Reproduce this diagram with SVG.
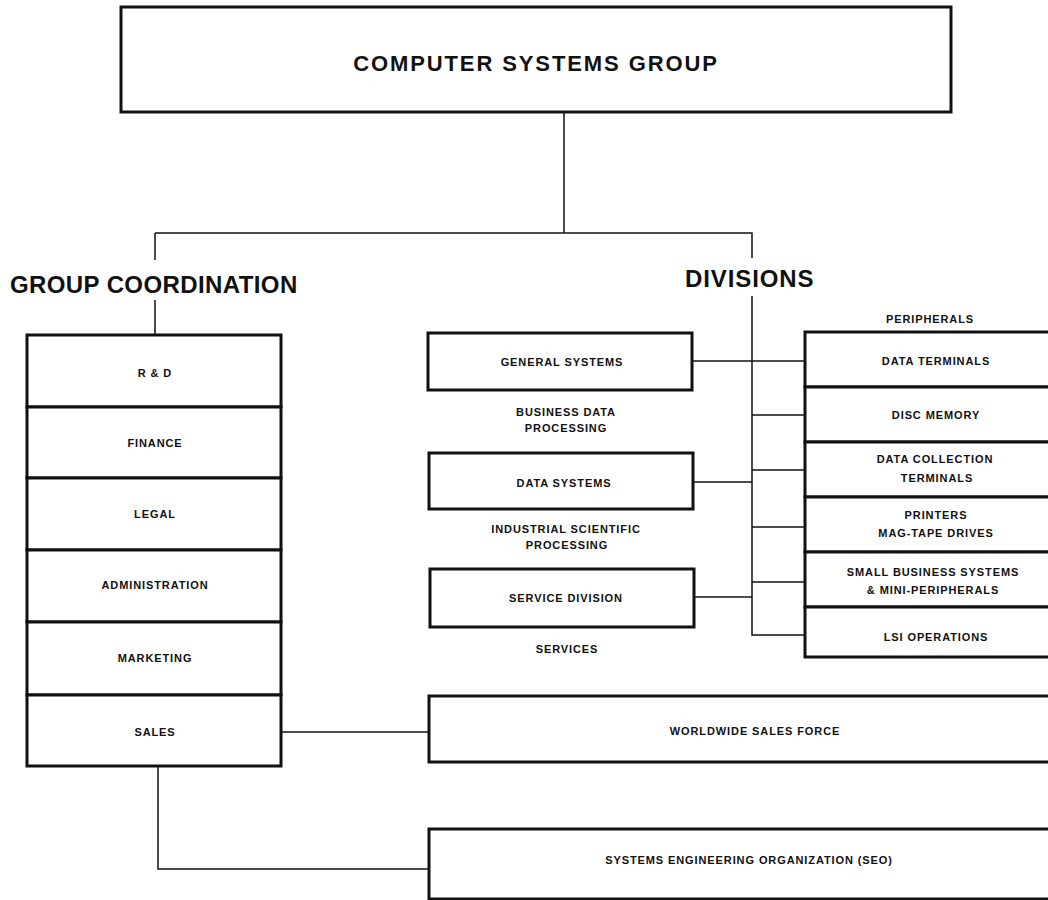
<svg xmlns="http://www.w3.org/2000/svg" width="1048" height="900" viewBox="0 0 1048 900">
<style>
.box{fill:#fff;stroke:#111;stroke-width:3}
.conn{fill:none;stroke:#111;stroke-width:1.5}
.t{font-family:"Liberation Sans",Arial,sans-serif;font-weight:bold;font-size:11px;letter-spacing:0.9px;fill:#111;text-anchor:middle}
.h{font-family:"Liberation Sans",Arial,sans-serif;font-weight:bold;fill:#111}
</style>
<rect width="1048" height="900" fill="#fff"/>
<g id="connectors">
<path class="conn" d="M564,112 V233"/>
<path class="conn" d="M155,233 H752 V258"/>
<path class="conn" d="M155,233 V260"/>
<path class="conn" d="M155,300 V335"/>
<path class="conn" d="M752,296 V635 H805"/>
<path class="conn" d="M692,361 H805"/>
<path class="conn" d="M752,415 H805 M752,470 H805 M752,527 H805 M752,582 H805"/>
<path class="conn" d="M693,482 H752"/>
<path class="conn" d="M694,597 H752"/>
<path class="conn" d="M281,732 H429"/>
<path class="conn" d="M158,766 V869 H429"/>
</g>
<g id="computer-systems-group">
<rect class="box" x="121" y="7" width="830" height="105" stroke-width="3.5"/>
<text class="h" x="536" y="71" font-size="22" letter-spacing="1.9" text-anchor="middle">COMPUTER SYSTEMS GROUP</text>
</g>
<g id="group-coordination-label">
<text class="h" x="10" y="293" font-size="24" letter-spacing="0.4">GROUP COORDINATION</text>
</g>
<g id="divisions-label">
<text class="h" x="685" y="287" font-size="24" letter-spacing="0.9">DIVISIONS</text>
</g>
<g id="rd"><rect class="box" x="27" y="335" width="254" height="72"/><text class="t" x="155" y="377">R &amp; D</text></g>
<g id="finance"><rect class="box" x="27" y="407" width="254" height="71"/><text class="t" x="155" y="447">FINANCE</text></g>
<g id="legal"><rect class="box" x="27" y="478" width="254" height="72"/><text class="t" x="155" y="518">LEGAL</text></g>
<g id="administration"><rect class="box" x="27" y="550" width="254" height="72"/><text class="t" x="155" y="589">ADMINISTRATION</text></g>
<g id="marketing"><rect class="box" x="27" y="622" width="254" height="73"/><text class="t" x="155" y="662">MARKETING</text></g>
<g id="sales"><rect class="box" x="27" y="695" width="254" height="71"/><text class="t" x="155" y="736">SALES</text></g>
<g id="general-systems">
<rect class="box" x="428" y="333" width="264" height="57"/>
<text class="t" x="562" y="366">GENERAL SYSTEMS</text>
<text class="t" x="566" y="416">BUSINESS DATA</text>
<text class="t" x="566" y="432">PROCESSING</text>
</g>
<g id="data-systems">
<rect class="box" x="429" y="453" width="264" height="56"/>
<text class="t" x="564" y="487">DATA SYSTEMS</text>
<text class="t" x="566" y="533">INDUSTRIAL SCIENTIFIC</text>
<text class="t" x="567" y="549">PROCESSING</text>
</g>
<g id="service-division">
<rect class="box" x="430" y="569" width="264" height="58"/>
<text class="t" x="566" y="602">SERVICE DIVISION</text>
<text class="t" x="567" y="653">SERVICES</text>
</g>
<g id="peripherals-label"><text class="t" x="930" y="323">PERIPHERALS</text></g>
<g id="data-terminals"><rect class="box" x="805" y="332" width="260" height="55"/><text class="t" x="936" y="365">DATA TERMINALS</text></g>
<g id="disc-memory"><rect class="box" x="805" y="387" width="260" height="55"/><text class="t" x="936" y="419">DISC MEMORY</text></g>
<g id="data-collection-terminals"><rect class="box" x="805" y="442" width="260" height="55"/><text class="t" x="935" y="463">DATA COLLECTION</text><text class="t" x="937" y="482">TERMINALS</text></g>
<g id="printers"><rect class="box" x="805" y="497" width="260" height="55"/><text class="t" x="936" y="519">PRINTERS</text><text class="t" x="936" y="537">MAG-TAPE DRIVES</text></g>
<g id="small-business"><rect class="box" x="805" y="552" width="260" height="55"/><text class="t" x="933" y="576">SMALL BUSINESS SYSTEMS</text><text class="t" x="933" y="594">&amp; MINI-PERIPHERALS</text></g>
<g id="lsi-operations"><rect class="box" x="805" y="607" width="260" height="50"/><text class="t" x="936" y="641">LSI OPERATIONS</text></g>
<g id="worldwide-sales-force"><rect class="box" x="429" y="696" width="640" height="66"/><text class="t" x="755" y="735">WORLDWIDE SALES FORCE</text></g>
<g id="seo"><rect class="box" x="429" y="829" width="640" height="70"/><text class="t" x="749" y="864">SYSTEMS ENGINEERING ORGANIZATION (SEO)</text></g>
</svg>
